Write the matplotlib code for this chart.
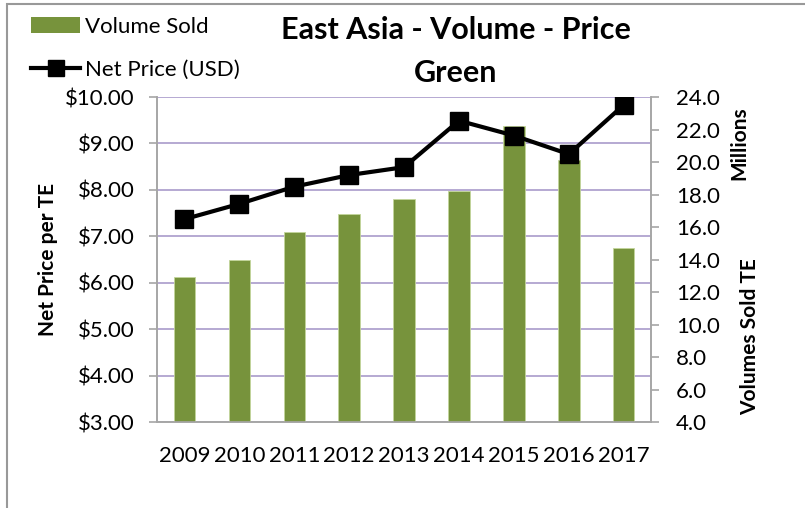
import numpy as np
import matplotlib
matplotlib.use('Agg')
import matplotlib.pyplot as plt
from matplotlib.patches import Rectangle, Patch
from matplotlib.lines import Line2D

plt.rcParams['font.family'] = ['Lato', 'DejaVu Sans']

years = ['2009', '2010', '2011', '2012', '2013', '2014', '2015', '2016', '2017']
volume_mil = [12.9, 14.0, 15.7, 16.8, 17.7, 18.2, 22.2, 20.1, 14.7]
net_price = [7.37, 7.70, 8.07, 8.32, 8.49, 9.49, 9.17, 8.77, 9.83]

price_ticks = np.arange(3, 10.01, 1)
volume_ticks = np.arange(4, 24.01, 2)

green = '#77933C'
purple = '#A99BCB'
gray = '#A6A6A6'

fig = plt.figure(figsize=(8.05, 5.08), dpi=100)
ax = fig.add_axes([0.195, 0.169, 0.614, 0.640])
x = np.arange(len(years))

# price axis (left) with gridlines, at the bottom of the stack
ax.set_ylim(3, 10)
ax.set_yticks(price_ticks)
ax.set_yticklabels(['$%.2f' % v for v in price_ticks])
ax.yaxis.grid(True, color=purple, lw=1.2)
ax.set_axisbelow(True)
ax.set_xlim(-0.5, len(years) - 0.5)
ax.set_xticks(x)
ax.set_xticklabels(years)

# volume bars on the right axis
ax2 = ax.twinx()
ax2.bar(x, volume_mil, width=0.39, color=green, edgecolor='#C3D69B', lw=0.6)
ax2.set_ylim(4, 24)
ax2.set_yticks(volume_ticks)
ax2.set_yticklabels(['%.1f' % v for v in volume_ticks])

# price line on top
ax3 = ax.twinx()
ax3.plot(x, net_price, color='black', lw=3, marker='s', markersize=13)
ax3.set_ylim(ax.get_ylim())
ax3.axis('off')

for a in (ax, ax2):
    for s in a.spines.values():
        s.set_color(gray)
        s.set_linewidth(1.2)
    a.spines['top'].set_visible(False)
ax.tick_params(axis='y', length=6, width=1.2, color=gray, labelsize=16, pad=10)
ax.tick_params(axis='x', length=0, labelsize=16, pad=17)
ax2.tick_params(axis='y', length=6, width=1.2, color=gray, labelsize=16, pad=12)

fig.text(0.06, 0.489, 'Net Price per TE', rotation=90, ha='center', va='center',
         fontsize=15, fontweight='bold')
fig.text(0.919, 0.718, 'Millions', rotation=90, ha='center', va='center',
         fontsize=15, fontweight='bold')
fig.text(0.932, 0.337, 'Volumes Sold TE', rotation=90, ha='center', va='center',
         fontsize=15, fontweight='bold')

fig.text(0.566, 0.94, 'East Asia - Volume - Price', ha='center', va='center',
         fontsize=22, fontweight='bold')
fig.text(0.566, 0.856, 'Green', ha='center', va='center',
         fontsize=22, fontweight='bold')

handles = [Patch(facecolor=green, edgecolor='none'),
           Line2D([0], [0], color='black', lw=3, marker='s', markersize=12)]
fig.legend(handles, ['Volume Sold', 'Net Price (USD)'], loc='upper left',
           bbox_to_anchor=(0.028, 0.985), frameon=False, fontsize=16,
           handlelength=2.2, handleheight=0.7, handletextpad=0.2,
           labelspacing=1.05, borderaxespad=0)

fig.add_artist(Rectangle((0.009, -0.1), 1.2, 1.092, transform=fig.transFigure,
                         fill=False, edgecolor='#999999', lw=1.5))

fig.savefig('out.png', dpi=100)
